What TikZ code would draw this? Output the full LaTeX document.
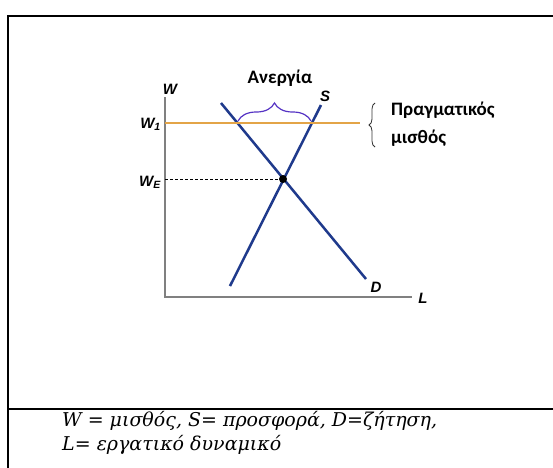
\documentclass[tikz,border=0pt]{standalone}
\usepackage{fontspec}
\setmainfont{DejaVu Serif}
\newfontfamily\axfont{Liberation Sans}
\newfontfamily\grfont{Carlito}
\usetikzlibrary{
  positioning,
  decorations.pathreplacing,
}
\definecolor{frameCol}{HTML}{000000}
\definecolor{axisCol}{HTML}{808080}
\definecolor{curveCol}{HTML}{1F3A8C}
\definecolor{wageCol}{HTML}{E3A447}
\definecolor{braceCol}{HTML}{5533C4}
\tikzset{
  axis/.style={axisCol, line width=1.4pt},
  curve/.style={curveCol, line width=2.5pt},
  wageline/.style={wageCol, line width=2.4pt},
  axlabel/.style={font=\axfont\fontsize{15}{17}\selectfont\bfseries\itshape, inner sep=1pt},
  grlabel/.style={font=\grfont\fontsize{19}{28}\selectfont\bfseries, inner sep=1pt, align=left},
  capt/.style={font=\fontsize{19}{24}\selectfont\itshape, align=left, anchor=west, inner sep=0pt},
  gapbrace/.style={decorate, decoration={brace, amplitude=18pt}, braceCol, line width=1.2pt},
}
\begin{document}
\begin{tikzpicture}[x=1pt, y=-1pt]

  \useasboundingbox (0,0) rectangle (553,467);
  \fill[white] (0,0) rectangle (553,467);

  % Frame
  \draw[frameCol, line width=2.5pt] (8,470) -- (8,16) -- (556,16);
  \draw[frameCol, line width=2.5pt] (8,409) -- (556,409);

  % Axes
  \coordinate (o) at (165,297);
  \coordinate (wtop) at (165,97);
  \coordinate (lend) at (412,297);
  \draw[axis] (wtop) -- (o) -- (lend);
  \node[axlabel] (wlab) at (170,89) {W};
  \node[axlabel] (llab) at (423,298) {L};

  % Curves
  \coordinate (d0) at (221,103);
  \coordinate (d1) at (366,279);
  \coordinate (s0) at (230,286);
  \coordinate (s1) at (321,105);
  \draw[curve] (d0) -- (d1);
  \draw[curve] (s0) -- (s1);
  \node[axlabel] (slab) at (325,96) {S};
  \node[axlabel] (dlab) at (376,287) {D};

  % Real wage
  \coordinate (w1end) at (360,123);
  \draw[wageline] (165,123) -- (w1end);
  \node[axlabel, left=3pt of {(165,124)}] (w1lab) {W\textsubscript{1}};

  % Equilibrium
  \node[circle, fill=black, inner sep=0pt, minimum size=8pt] (eq) at (283,179) {};
  \draw[dashed, line width=0.6pt, dash pattern=on 3pt off 2pt] (165,179) -- (eq);
  \node[axlabel, left=3pt of {(165,182)}] (welab) {W\textsubscript{E}};

  % Unemployment gap
  \coordinate (ga) at (238,121);
  \coordinate (gb) at (311,121);
  \draw[gapbrace] (ga) -- (gb);
  \node[grlabel] (unemp) at (280,78) {Ανεργία};

  % Real wage label
  \draw[decorate, decoration={brace, amplitude=6pt}, black!80, line width=0.8pt] (375,147) -- (375,103);
  \node[grlabel, anchor=west] (realw) at (390,124) {Πραγματικός\\μισθός};

  % Caption
  \node[capt] (cap) at (62,433) {W = μισθός, S= προσφορά, D=ζήτηση,\\L= εργατικό δυναμικό};

\end{tikzpicture}
\end{document}
